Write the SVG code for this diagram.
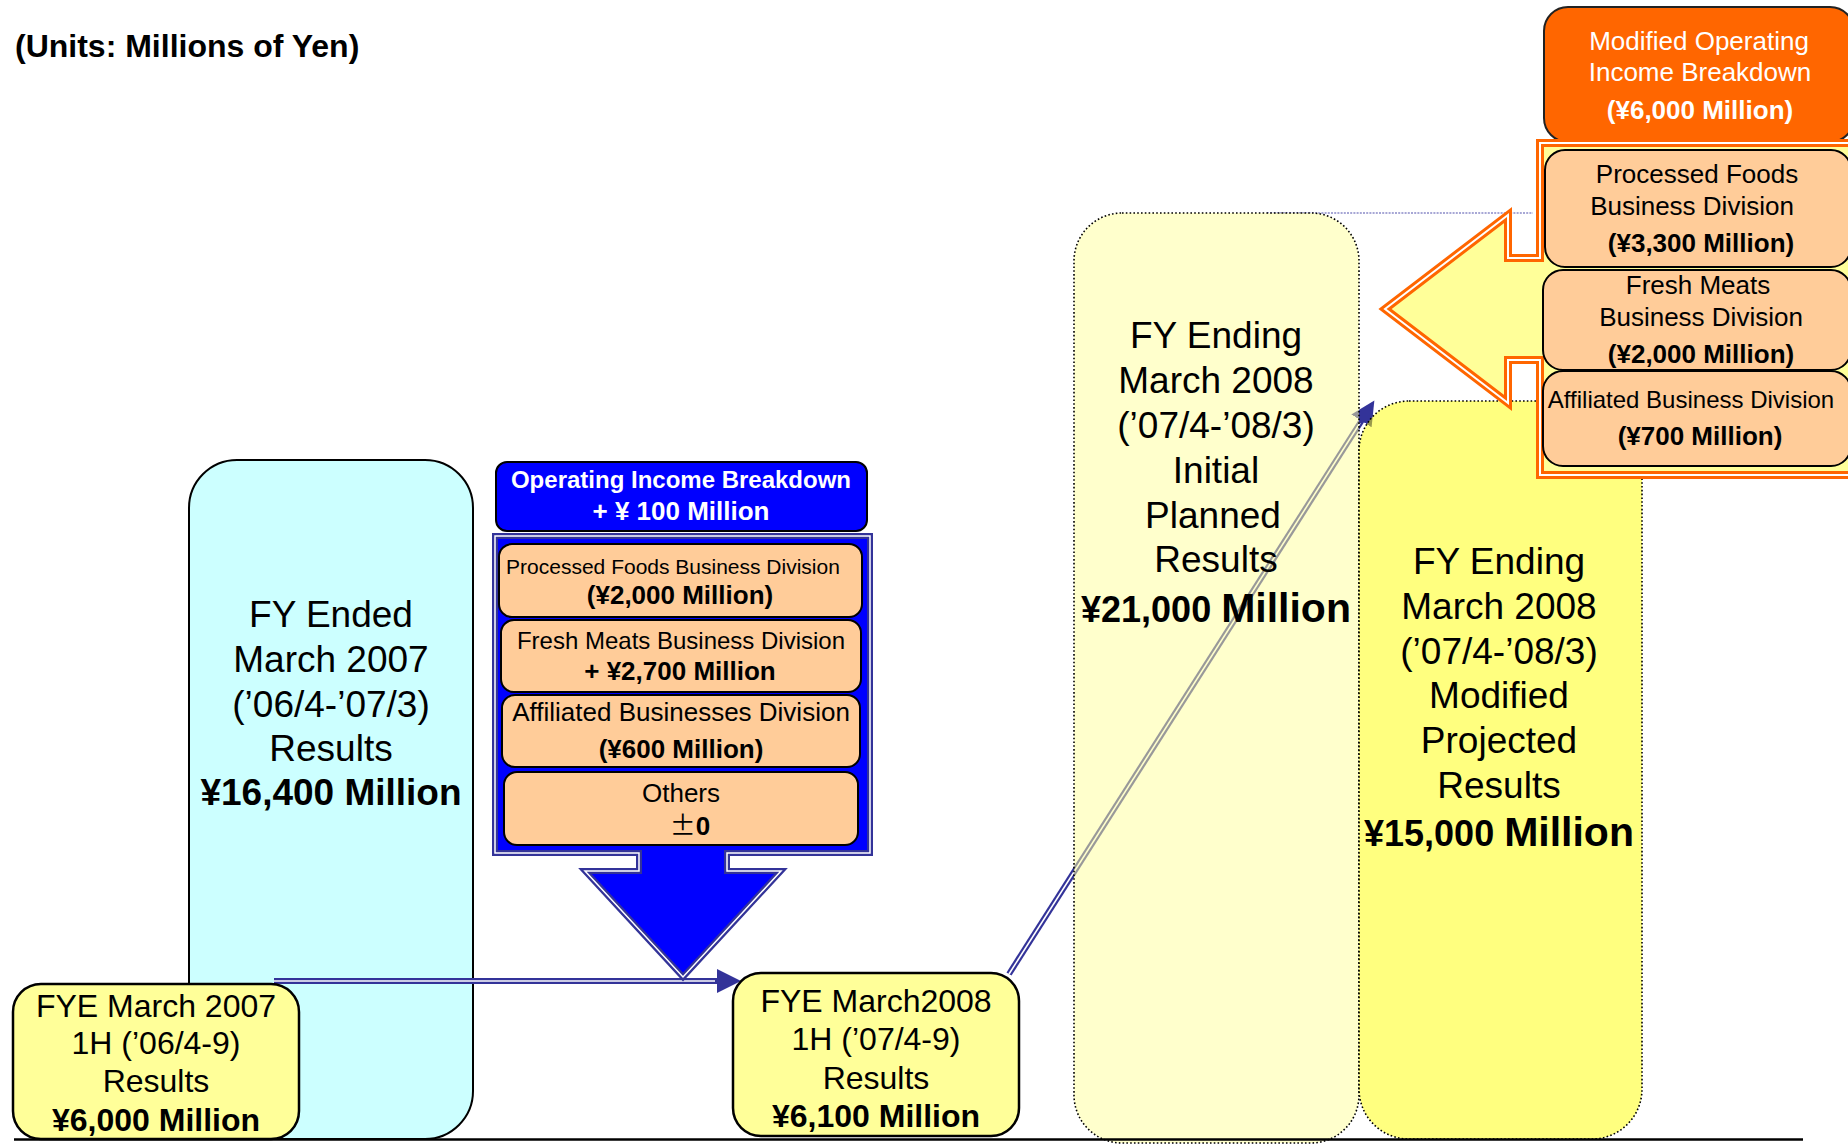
<svg xmlns="http://www.w3.org/2000/svg" width="1848" height="1144" viewBox="0 0 1848 1144">
<defs>
<style>
text { font-family: "Liberation Sans", Arial, sans-serif; fill: #000; }
.b { font-weight: bold; }
.c { text-anchor: middle; }
.wt { fill: #fff; }
.peach { fill: #FFCC99; stroke: #000; stroke-width: 2; }
.ybox { fill: #FFFF99; stroke: #000; stroke-width: 2.5; }
.dot { stroke: #000; stroke-width: 1.6; stroke-dasharray: 1.6 2.2; }
.dk { fill: none; stroke: #333399; stroke-width: 6; }
.lt { fill: none; stroke: #fff; stroke-width: 1.6; }
.f37 { font-size: 37px; }
.f32 { font-size: 32px; }
.f26 { font-size: 26px; }
</style>
<marker id="arrow" markerUnits="userSpaceOnUse" markerWidth="26" markerHeight="24" viewBox="0 0 26 24" refX="1" refY="12" orient="auto">
<path d="M0,0 L24,12 L0,24 Z" fill="#333399"/>
</marker>
</defs>
<rect width="1848" height="1144" fill="#fff"/>

<text id="units" x="15" y="57" class="b" font-size="32">(Units: Millions of Yen)</text>

<g id="fy2007">
<rect x="189" y="460" width="284" height="679" rx="48" fill="#CCFFFF" stroke="#000" stroke-width="2"/>
<text class="c f37" x="331" y="627">FY Ended</text>
<text class="c f37" x="331" y="672">March 2007</text>
<text class="c f37" x="331" y="717">(’06/4-’07/3)</text>
<text class="c f37" x="331" y="761">Results</text>
<text class="c f37 b" x="331" y="805">¥16,400 Million</text>
</g>

<g id="connectors">
<path class="dk" d="M274,981 H718" marker-end="url(#arrow)"/>
<path class="lt" d="M274,981 H715"/>
<path class="dk" d="M1009,974 L1362,420" marker-end="url(#arrow)"/>
<path class="lt" d="M1009,974 L1360,423"/>
<path d="M1267,213 H1533" stroke="#8A8AC8" stroke-width="1.5" stroke-dasharray="2 1.2" fill="none"/>
</g>

<g id="h1-2007">
<rect class="ybox" x="13" y="984" width="286" height="155" rx="28"/>
<text class="c f32" x="156" y="1017">FYE March 2007</text>
<text class="c f32" x="156" y="1054">1H (’06/4-9)</text>
<text class="c f32" x="156" y="1092">Results</text>
<text class="c f32 b" x="156" y="1131">¥6,000 Million</text>
</g>

<g id="h1-2008">
<rect class="ybox" x="733" y="973" width="286" height="163" rx="28"/>
<text class="c f32" x="876" y="1012">FYE March2008</text>
<text class="c f32" x="876" y="1050">1H (’07/4-9)</text>
<text class="c f32" x="876" y="1089">Results</text>
<text class="c f32 b" x="876" y="1127">¥6,100 Million</text>
</g>

<g id="op-header">
<rect x="496" y="462" width="371" height="69" rx="11" fill="#0000FF" stroke="#000" stroke-width="2"/>
<text class="c b wt" x="681" y="488" font-size="24">Operating Income Breakdown</text>
<text class="c b wt" x="681" y="520" font-size="26">+ ¥ 100 Million</text>
</g>

<g id="op-breakdown">
<path d="M495,536 H870 V853 H727 V871 H781 L683,977 L585,871 H639 V853 H495 Z" fill="#0000FF" stroke="#333399" stroke-width="6" stroke-linejoin="miter"/>
<path d="M495,536 H870 V853 H727 V871 H781 L683,977 L585,871 H639 V853 H495 Z" fill="none" stroke="#fff" stroke-width="1.5"/>
<g id="op-processed">
<rect class="peach" x="499" y="544" width="363" height="73" rx="13"/>
<text class="c" x="673" y="574" font-size="21">Processed Foods Business Division</text>
<text class="c b f26" x="680" y="604">(¥2,000 Million)</text>
</g>
<g id="op-fresh">
<rect class="peach" x="501" y="620" width="360" height="72" rx="13"/>
<text class="c" x="681" y="649" font-size="24">Fresh Meats Business Division</text>
<text class="c b f26" x="680" y="680">+ ¥2,700 Million</text>
</g>
<g id="op-affiliated">
<rect class="peach" x="502" y="695" width="358" height="72" rx="13"/>
<text class="c f26" x="681" y="721">Affiliated Businesses Division</text>
<text class="c b f26" x="681" y="758">(¥600 Million)</text>
</g>
<g id="op-others">
<rect class="peach" x="504" y="772" width="354" height="73" rx="13"/>
<text class="c f26" x="681" y="802">Others</text>
<text class="c f26" x="690" y="835"><tspan font-family="'Noto Sans CJK JP', sans-serif">±</tspan><tspan class="b">0</tspan></text>
</g>
</g>

<g id="fy2008-initial">
<rect x="1074" y="213" width="285" height="930" rx="48" fill="#FFFF99" fill-opacity="0.5"/>
<rect class="dot" x="1074" y="213" width="285" height="930" rx="48" fill="none"/>
<text class="c f37" x="1216" y="348">FY Ending</text>
<text class="c f37" x="1216" y="393">March 2008</text>
<text class="c f37" x="1216" y="438">(’07/4-’08/3)</text>
<text class="c f37" x="1216" y="483">Initial</text>
<text class="c f37" x="1213" y="528">Planned</text>
<text class="c f37" x="1216" y="572">Results</text>
<text class="c b" x="1216" y="622"><tspan font-size="36">¥21,000 </tspan><tspan font-size="41">Million</tspan></text>
</g>

<g id="fy2008-modified">
<rect x="1359" y="401" width="283" height="738" rx="50" fill="#FFFF00" fill-opacity="0.5"/>
<rect class="dot" x="1359" y="401" width="283" height="738" rx="50" fill="none"/>
<text class="c f37" x="1499" y="574">FY Ending</text>
<text class="c f37" x="1499" y="619">March 2008</text>
<text class="c f37" x="1499" y="664">(’07/4-’08/3)</text>
<text class="c f37" x="1499" y="708">Modified</text>
<text class="c f37" x="1499" y="753">Projected</text>
<text class="c f37" x="1499" y="798">Results</text>
<text class="c b" x="1499" y="846"><tspan font-size="36">¥15,000 </tspan><tspan font-size="41">Million</tspan></text>
</g>

<g id="mod-header">
<rect x="1544" y="7" width="310" height="135" rx="24" fill="#FF6600" stroke="#222" stroke-width="2"/>
<text class="c f26 wt" x="1699" y="50">Modified Operating</text>
<text class="c f26 wt" x="1700" y="81">Income Breakdown</text>
<text class="c f26 b wt" x="1700" y="119">(¥6,000 Million)</text>
</g>

<g id="mod-breakdown">
<path d="M1540,143 H1860 V475 H1540 V360 H1508 V403 L1385,309 L1508,215 V258 H1540 Z" fill="#FFFF99" stroke="#FF6600" stroke-width="8"/>
<path d="M1540,143 H1860 V475 H1540 V360 H1508 V403 L1385,309 L1508,215 V258 H1540 Z" fill="none" stroke="#fff" stroke-width="2"/>
<g id="mod-processed">
<rect class="peach" x="1545" y="150" width="306" height="117" rx="20"/>
<text class="c f26" x="1697" y="183">Processed Foods</text>
<text class="c f26" x="1692" y="215">Business Division</text>
<text class="c f26 b" x="1701" y="252">(¥3,300 Million)</text>
</g>
<g id="mod-fresh">
<rect class="peach" x="1543" y="270" width="308" height="100" rx="20"/>
<text class="c f26" x="1698" y="294">Fresh Meats</text>
<text class="c f26" x="1701" y="326">Business Division</text>
<text class="c f26 b" x="1701" y="363">(¥2,000 Million)</text>
</g>
<g id="mod-affiliated">
<rect class="peach" x="1543" y="371" width="308" height="95" rx="20"/>
<text class="c" x="1691" y="408" font-size="24">Affiliated Business Division</text>
<text class="c f26 b" x="1700" y="445">(¥700 Million)</text>
</g>
</g>

<line id="baseline" x1="14" y1="1139.5" x2="1803" y2="1139.5" stroke="#000" stroke-width="2.5"/>
</svg>
